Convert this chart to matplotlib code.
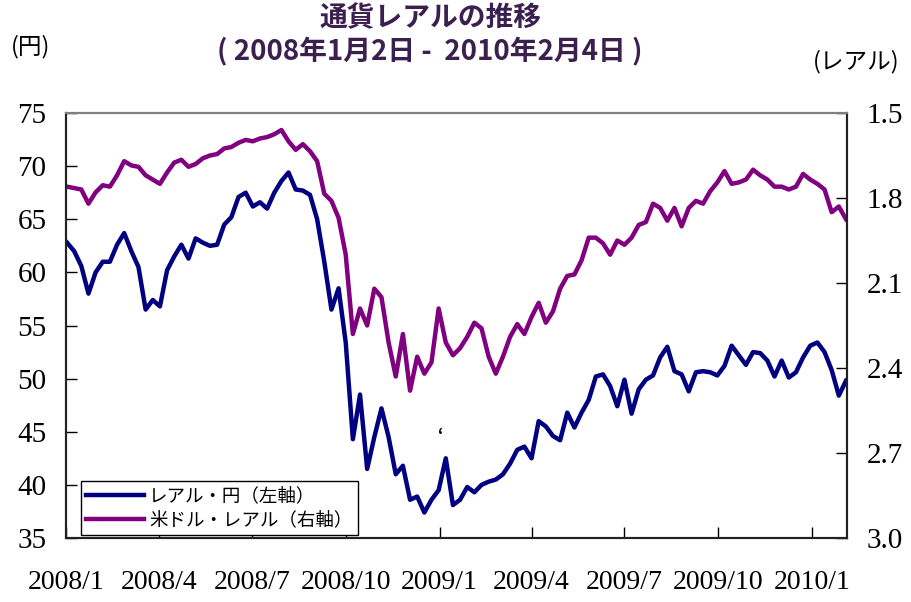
import pandas as pd
import matplotlib
matplotlib.use("Agg")
import matplotlib.pyplot as plt

plt.rcParams['font.family'] = ['Noto Sans CJK JP', 'DejaVu Sans']

# weekly readings, 2008-01-02 .. 2010-02-03
weeks = pd.date_range("2008-01-02", "2010-02-04", freq="7D")

real_yen = [
    62.8, 62.0, 60.6, 58.0, 60.0, 61.0, 61.0, 62.6, 63.7, 62.0,
    60.5, 56.5, 57.4, 56.8, 60.2, 61.5, 62.6, 61.3, 63.2, 62.8,
    62.5, 62.6, 64.5, 65.2, 67.1, 67.5, 66.2, 66.6, 66.0, 67.5,
    68.6, 69.4, 67.8, 67.7, 67.3, 65.0, 61.0, 56.5, 58.5, 53.4,
    44.3, 48.5, 41.5, 44.5, 47.2, 44.5, 41.0, 41.8, 38.6, 38.9,
    37.4, 38.6, 39.5, 42.5, 38.1, 38.6, 39.8, 39.3, 40.0, 40.3,
    40.5, 41.0, 42.0, 43.3, 43.6, 42.5, 46.0, 45.5, 44.6, 44.2,
    46.8, 45.4, 46.8, 48.0, 50.2, 50.4, 49.3, 47.4, 49.9, 46.7,
    49.0, 49.9, 50.3, 52.0, 53.0, 50.7, 50.4, 48.8, 50.6, 50.7,
    50.6, 50.3, 51.2, 53.1, 52.2, 51.3, 52.5, 52.4, 51.7, 50.2,
    51.7, 50.1, 50.6, 52.0, 53.1, 53.4, 52.5, 50.8, 48.4, 49.8,
]

usd_real = [
    1.760, 1.765, 1.770, 1.820, 1.780, 1.755, 1.760, 1.720, 1.670, 1.685,
    1.690, 1.720, 1.735, 1.750, 1.710, 1.675, 1.665, 1.690, 1.680, 1.660,
    1.650, 1.645, 1.625, 1.620, 1.605, 1.595, 1.600, 1.590, 1.585, 1.575,
    1.560, 1.600, 1.630, 1.610, 1.635, 1.670, 1.785, 1.810, 1.870, 2.000,
    2.280, 2.190, 2.250, 2.120, 2.150, 2.310, 2.430, 2.280, 2.480, 2.360,
    2.420, 2.380, 2.190, 2.310, 2.355, 2.330, 2.290, 2.240, 2.260, 2.360,
    2.420, 2.360, 2.290, 2.245, 2.280, 2.220, 2.170, 2.240, 2.200, 2.120,
    2.075, 2.070, 2.020, 1.940, 1.940, 1.960, 2.000, 1.950, 1.965, 1.940,
    1.895, 1.885, 1.820, 1.835, 1.880, 1.835, 1.900, 1.835, 1.810, 1.820,
    1.776, 1.745, 1.705, 1.750, 1.745, 1.735, 1.700, 1.720, 1.735, 1.760,
    1.760, 1.770, 1.760, 1.715, 1.735, 1.750, 1.770, 1.850, 1.830, 1.875,
]

tick_dates = pd.to_datetime([
    "2008-01-01", "2008-04-01", "2008-07-01", "2008-10-01", "2009-01-01",
    "2009-04-01", "2009-07-01", "2009-10-01", "2010-01-01",
])
tick_labels = ["2008/1", "2008/4", "2008/7", "2008/10", "2009/1",
               "2009/4", "2009/7", "2009/10", "2010/1"]
yen_ticks = [35, 40, 45, 50, 55, 60, 65, 70, 75]
real_ticks = [1.5, 1.8, 2.1, 2.4, 2.7, 3.0]

serif = "Liberation Serif"

fig = plt.figure(figsize=(9.12, 6.02), dpi=100)
ax = fig.add_axes([66 / 912, 1 - 538 / 602, 781 / 912, 425 / 602])
ax2 = ax.twinx()

l1, = ax.plot(weeks, real_yen, color="#000080", lw=3.2, label="レアル・円（左軸）")
l2, = ax2.plot(weeks, usd_real, color="#800080", lw=3.2, label="米ドル・レアル（右軸）")

ax.set_xlim(pd.Timestamp("2008-01-01"), pd.Timestamp("2010-02-04"))
ax.set_ylim(35, 75)
ax2.set_ylim(3.0, 1.5)

ax.set_xticks(tick_dates)
ax.set_xticklabels(tick_labels)
ax.set_yticks(yen_ticks)
ax.set_yticklabels([str(v) for v in yen_ticks])
ax2.set_yticks(real_ticks)
ax2.set_yticklabels([f"{v:.1f}" for v in real_ticks])

ax.tick_params(axis="x", direction="in", length=8, width=1, pad=23,
               labelsize=20, labelfontfamily=serif)
ax.tick_params(axis="y", direction="in", length=8, width=1, pad=14,
               labelsize=21, labelfontfamily=serif)
ax2.tick_params(axis="y", direction="in", length=8, width=1, pad=14,
                labelsize=21, labelfontfamily=serif)

for a in (ax, ax2):
    for side, sp in a.spines.items():
        sp.set_linewidth(1.5)
        sp.set_color("#808080" if side == "top" else "#222222")

# small stray mark in the source chart
ax.text(pd.Timestamp("2009-01-02"), 44.6, "‘", fontsize=12, weight="bold",
        ha="center", va="center")

leg = ax2.legend(handles=[l1, l2], loc="lower left", bbox_to_anchor=(0.019, 0.007),
                 borderaxespad=0, fontsize=13.3, handlelength=3.1, handletextpad=0.3,
                 fancybox=False, edgecolor="black", framealpha=1, borderpad=0.3,
                 labelspacing=0.35)
leg.get_frame().set_linewidth(1.0)

title_color = "#3b1f4f"
fig.text(430 / 912, 1 - 18 / 602, "通貨レアルの推移", fontsize=20, weight="bold",
         color=title_color, ha="center", va="center")
fig.text(430 / 912, 1 - 52 / 602, "( 2008年1月2日 -  2010年2月4日 )", fontsize=20,
         weight="bold", color=title_color, ha="center", va="center")
fig.text(31 / 912, 1 - 47 / 602, "(円)", fontsize=17, ha="center", va="center")
fig.text(856 / 912, 1 - 62 / 602, "(レアル)", fontsize=17, ha="center", va="center")

fig.savefig("out.png", dpi=100)
